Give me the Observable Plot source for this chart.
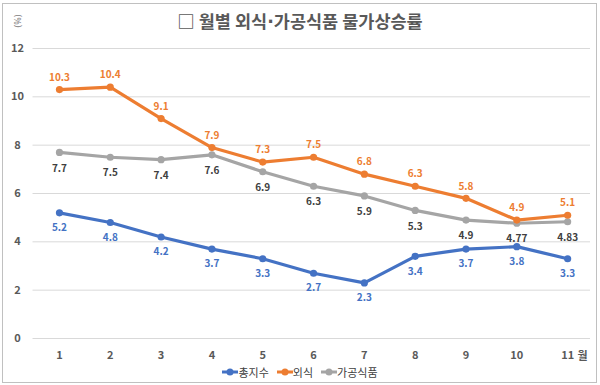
<!DOCTYPE html>
<html><head><meta charset="utf-8">
<script src="https://cdn.jsdelivr.net/npm/d3@7"></script>
<script src="https://cdn.jsdelivr.net/npm/@observablehq/plot@0.6"></script>
<style>
body{margin:0;background:#fff;}
#wrap{position:relative;width:600px;height:385px;overflow:hidden;font-family:"Noto Sans CJK KR","Noto Sans",sans-serif;}
#frame{position:absolute;left:2px;top:3px;width:595px;height:380px;border:1px solid #c0c0c0;box-sizing:border-box;}
#title{position:absolute;top:8px;left:0;width:600px;text-align:center;font-size:17.5px;font-weight:bold;color:#595959;}
#title .dot{font-family:"DejaVu Sans",sans-serif;}
#unit{position:absolute;left:17px;top:21px;font-size:9px;line-height:9px;color:#808080;transform:translate(-50%,-50%) rotate(-90deg);white-space:nowrap;font-family:"Noto Sans",sans-serif;}
#chart{position:absolute;left:0;top:0;}
#legend{position:absolute;top:364px;left:0;width:600px;display:flex;justify-content:center;gap:8px;font-size:11px;color:#404040;}
#legend span{display:flex;align-items:center;}
</style></head>
<body>
<div id="wrap">
  <div id="frame"></div>
  <div id="chart"></div>
  <div id="title">□ 월별 외식<span class="dot">·</span>가공식품 물가상승률</div>
  <div id="unit">(%)</div>
  <div id="legend"></div>
</div>
<script>
const months = [1,2,3,4,5,6,7,8,9,10,11];
const totalIndex = [5.2,4.8,4.2,3.7,3.3,2.7,2.3,3.4,3.7,3.8,3.3];
const diningOut = [10.3,10.4,9.1,7.9,7.3,7.5,6.8,6.3,5.8,4.9,5.1];
const processedFood = [7.7,7.5,7.4,7.6,6.9,6.3,5.9,5.3,4.9,4.77,4.83];
const seriesNames = ["총지수","외식","가공식품"];
const seriesColors = ["#4472C4","#ED7D31","#A5A5A5"];
const labelColors = ["#4472C4","#ED7D31","#404040"];
const yTicks = [0,2,4,6,8,10,12];

const build = (vals, s) => months.map((m,i) => ({month:m, value:vals[i], series:s}));
const tot = build(totalIndex, seriesNames[0]);
const din = build(diningOut, seriesNames[1]);
const pro = build(processedFood, seriesNames[2]);

const font = '"Noto Sans CJK KR","Noto Sans",sans-serif';

const plot = Plot.plot({
  width: 600, height: 385,
  marginLeft: 30, marginRight: 10, marginTop: 48, marginBottom: 47,
  style: {fontFamily: font, background: "transparent", overflow: "visible"},
  x: {domain: [0.43, 11.45]},
  y: {domain: [0, 12]},
  marks: [
    Plot.ruleY(yTicks, {stroke: "#d9d9d9", strokeWidth: 1, x1: 0.48, x2: 11.45}),
    Plot.axisY(yTicks, {tickSize: 0, tickPadding: 13, textAnchor: "middle", fontSize: 11, fontWeight: "bold", fill: "#595959", label: null}),
    Plot.axisX(months, {tickSize: 0, tickPadding: 13, fontSize: 11, fontWeight: "bold", fill: "#595959", label: null}),
    Plot.text(["월"], {x: 11, y: 0, dx: 15, dy: 18, fontSize: 11, fontWeight: "bold", fill: "#595959"}),
    ...[pro, din, tot].map((d, k) => {
      const idx = [2,1,0][k];
      return Plot.line(d, {x: "month", y: "value", stroke: seriesColors[idx], strokeWidth: 3.2});
    }),
    ...[pro, din, tot].map((d, k) => {
      const idx = [2,1,0][k];
      return Plot.dot(d, {x: "month", y: "value", fill: seriesColors[idx], r: 3.6});
    }),
    Plot.text(din, {x: "month", y: "value", text: d => String(d.value), dy: -12, fill: labelColors[1], fontSize: 10, fontWeight: "bold"}),
    Plot.text(pro, {x: "month", y: "value", text: d => String(d.value), dy: 16, fill: labelColors[2], fontSize: 10, fontWeight: "bold"}),
    Plot.text(tot, {x: "month", y: "value", text: d => String(d.value), dy: 15, fill: labelColors[0], fontSize: 10, fontWeight: "bold"})
  ]
});
document.getElementById("chart").appendChild(plot);

const lg = document.getElementById("legend");
seriesNames.forEach((n, i) => {
  const s = document.createElement("span");
  s.innerHTML = `<svg width="16" height="10"><line x1="0" y1="5" x2="16" y2="5" stroke="${seriesColors[i]}" stroke-width="3"/><circle cx="8" cy="5" r="3.5" fill="${seriesColors[i]}"/></svg>${n}`;
  lg.appendChild(s);
});
</script>
</body></html>
